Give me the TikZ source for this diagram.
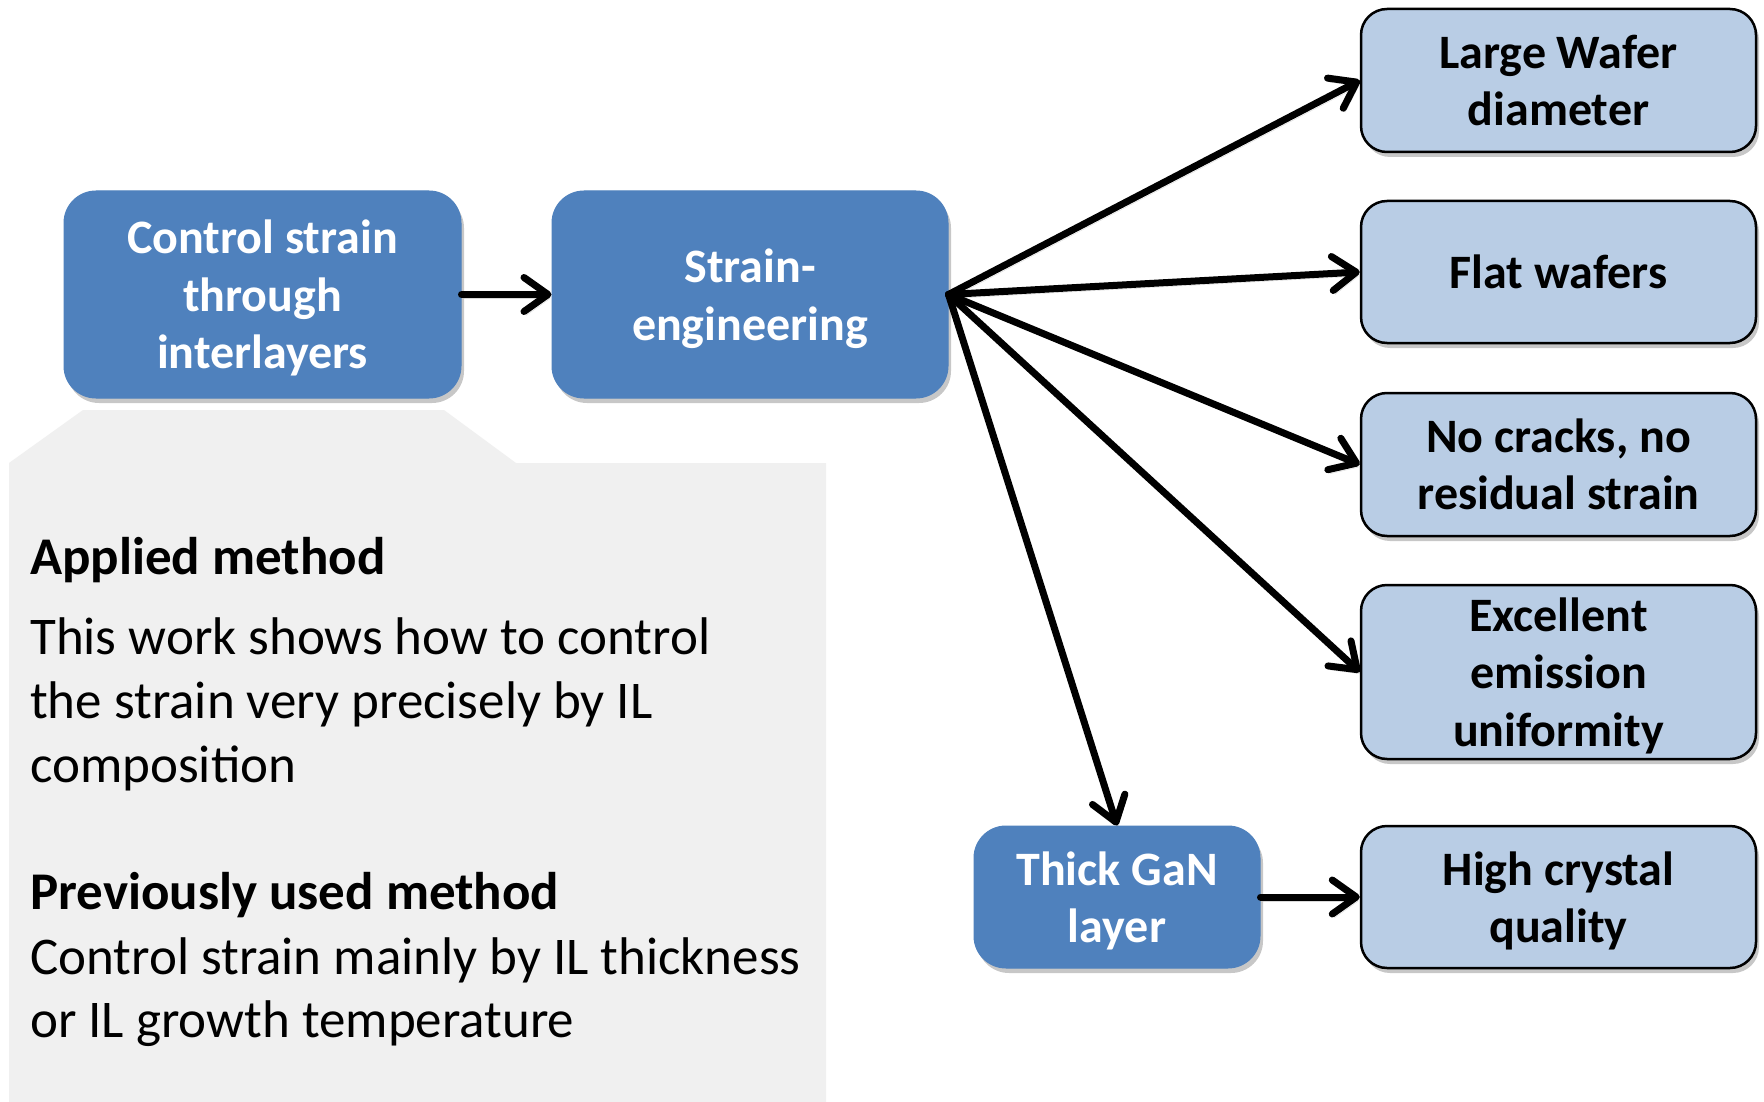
\documentclass[tikz,border=0pt]{standalone}
\usepackage{fontspec}
\setmainfont{Carlito}
\usetikzlibrary{arrows.meta,shadows}
\definecolor{darkblue}{HTML}{4F81BD}
\definecolor{lightblue}{HTML}{B9CDE5}
\definecolor{panelgray}{HTML}{F0F0F0}
\begin{document}
\begin{tikzpicture}[x=1pt,y=-1pt,
  boxshadow/.style={drop shadow={shadow xshift=3pt,shadow yshift=-5pt,fill=black,opacity=0.22}},
  darkbox/.style={rectangle,rounded corners=32pt,fill=darkblue,draw=darkblue,line width=1pt,
    text=white,font=\fontsize{48}{57.5}\selectfont\bfseries,align=center,inner sep=0pt,boxshadow},
  lightbox/.style={rectangle,rounded corners=26pt,fill=lightblue,draw=black,line width=2.5pt,
    text=black,font=\fontsize{48}{57.5}\selectfont\bfseries,align=center,inner sep=0pt,boxshadow},
  conn/.style={line width=7pt,line cap=round,-{Straight Barb[round,length=24pt,width=34pt]},
    preaction={draw=black,opacity=0.15,transform canvas={shift={(2pt,-4pt)}}}},
  paneltext/.style={anchor=base west,inner sep=0pt,font=\fontsize{53}{63}\selectfont},
  panelhead/.style={paneltext,font=\fontsize{53}{63}\selectfont\bfseries}
]
\useasboundingbox (0,0) rectangle (1764,1102);
\fill[white] (0,0) rectangle (1764,1102);

% grey callout panel
\fill[panelgray] (9,463) -- (83,410) -- (444,410) -- (516,463) -- (826,463) -- (826,1102) -- (9,1102) -- cycle;
\node[panelhead] (h1) at (30,574) {Applied method};
\node[paneltext] (t1) at (30,654) {This work shows how to control};
\node[paneltext] (t2) at (30,718) {the strain very precisely by IL};
\node[paneltext] (t3) at (30,782) {composition};
\node[panelhead] (h2) at (30,909) {Previously used method};
\node[paneltext] (t4) at (30,974) {Control strain mainly by IL thickness};
\node[paneltext] (t5) at (30,1037) {or IL growth temperature};

% dark boxes
\node[darkbox,minimum width=397pt,minimum height=207pt] (A) at (262.5,294.5) {Control strain\\through\\\smash{interlayers}};
\node[darkbox,minimum width=396pt,minimum height=207pt] (B) at (750,294.5) {Strain-\\\smash{engineering}};
\node[darkbox,minimum width=286pt,minimum height=142pt] (T) at (1117,897) {Thick GaN\\\smash{layer}};

% light boxes
\node[lightbox,minimum width=395pt,minimum height=143pt] (L) at (1558.5,80.5) {Large Wafer\\diameter};
\node[lightbox,minimum width=395pt,minimum height=142pt] (F) at (1558.5,272) {Flat wafers};
\node[lightbox,minimum width=395pt,minimum height=143pt] (N) at (1558.5,464.5) {No cracks, no\\residual strain};
\node[lightbox,minimum width=395pt,minimum height=174pt] (E) at (1558.5,672) {Excellent\\emission\\\smash{uniformity}};
\node[lightbox,minimum width=395pt,minimum height=142pt] (H) at (1558.5,897) {High crystal\\\smash{quality}};

% connectors
\draw[conn] (A.east) -- (B.west);
\draw[conn] (B.east) -- (L.west);
\draw[conn] (B.east) -- (F.west);
\draw[conn] (B.east) -- (N.west);
\draw[conn] (B.east) -- (E.west);
\draw[conn] (B.east) -- (T.north);
\draw[conn] (T.east) -- (H.west);
\end{tikzpicture}
\end{document}
